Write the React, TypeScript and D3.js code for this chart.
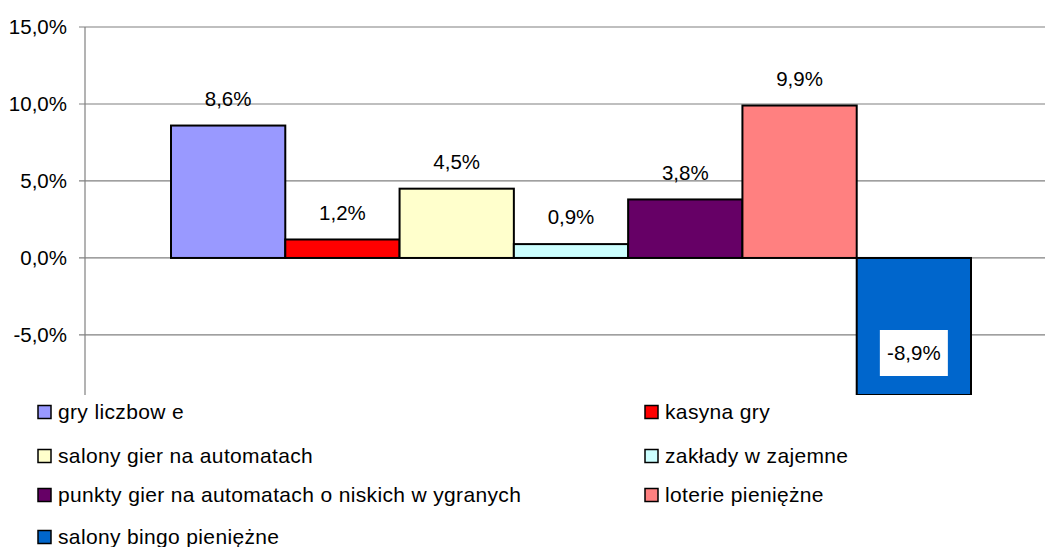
import React from 'react';
import * as d3 from 'd3';

// data
const seriesNames = [
  'gry liczbow e',
  'kasyna gry',
  'salony gier na automatach',
  'zakłady w zajemne',
  'punkty gier na automatach o niskich w ygranych',
  'loterie pieniężne',
  'salony bingo pieniężne',
];
const seriesValues = [8.6, 1.2, 4.5, 0.9, 3.8, 9.9, -8.9];
const seriesColors = ['#9999FF', '#FF0000', '#FFFFCC', '#CCFFFF', '#660066', '#FF8080', '#0066CC'];
const yTicks = [15, 10, 5, 0, -5];

const W = 1045;
const H = 547;
const plot = { left: 85, top: 27, bottom: 395, right: W };
const fmt = (v: number) => v.toFixed(1).replace('.', ',') + '%';
const FONT = 'Arial, "Liberation Sans", sans-serif';

export default function App() {
  const y = d3.scaleLinear().domain([-8.9, 15]).range([plot.bottom, plot.top]);
  const x = d3.scaleBand<string>().domain(seriesNames).range([171, 971]).paddingInner(0);

  // legend laid out in two columns, filled row by row
  const legendRows = [412, 456, 495, 537];
  const legendCols = [38, 645];

  return (
    <svg width={W} height={H} style={{ position: 'absolute', left: 0, top: 0 }} fontFamily={FONT}>
      <rect width={W} height={H} fill="#fff" />
      {yTicks.map((t) => (
        <g key={t}>
          <line x1={plot.left - 6} x2={plot.right} y1={y(t)} y2={y(t)} stroke="#808080" strokeWidth={1.2} />
          <text x={67} y={y(t)} dy="0.35em" textAnchor="end" fontSize={20.5} fill="#000">{fmt(t)}</text>
        </g>
      ))}
      <line x1={plot.left} x2={plot.left} y1={plot.top} y2={plot.bottom} stroke="#808080" strokeWidth={1.2} />
      <clipPath id="plotclip">
        <rect x={plot.left} y={plot.top} width={plot.right - plot.left} height={plot.bottom - plot.top} />
      </clipPath>
      <g clipPath="url(#plotclip)">
        {seriesNames.map((name, i) => {
          const v = seriesValues[i];
          const y0 = y(Math.max(0, v));
          const y1 = y(Math.min(0, v));
          return (
            <rect key={name} x={x(name)} y={y0} width={x.bandwidth()} height={y1 - y0}
              fill={seriesColors[i]} stroke="#000" strokeWidth={2} />
          );
        })}
      </g>
      {seriesNames.map((name, i) => {
        const v = seriesValues[i];
        const cx = (x(name) as number) + x.bandwidth() / 2;
        if (v >= 0) {
          return (
            <text key={name} x={cx} y={y(v) - 27} dy="0.35em" textAnchor="middle" fontSize={20.5}>{fmt(v)}</text>
          );
        }
        const cy = Math.min(y(v) + 27, plot.bottom - 42);
        return (
          <g key={name}>
            <rect x={cx - 34} y={cy - 23} width={68} height={46} fill="#fff" />
            <text x={cx} y={cy} dy="0.35em" textAnchor="middle" fontSize={20.5}>{fmt(v)}</text>
          </g>
        );
      })}
      {seriesNames.map((name, i) => {
        const lx = legendCols[i % 2];
        const ly = legendRows[Math.floor(i / 2)];
        return (
          <g key={name}>
            <rect x={lx} y={ly - 6.5} width={13} height={13} fill={seriesColors[i]} stroke="#000" strokeWidth={1.5} />
            <text x={lx + 20} y={ly} dy="0.35em" fontSize={21} letterSpacing={0.35}>{name}</text>
          </g>
        );
      })}
    </svg>
  );
}
